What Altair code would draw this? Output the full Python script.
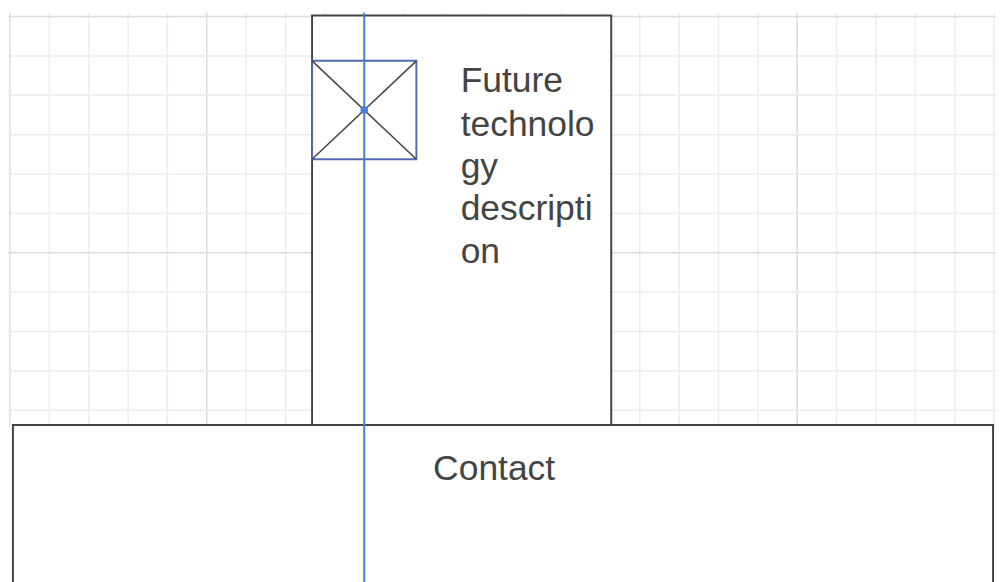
import altair as alt
import pandas as pd

# page coordinates (pixels of the 1004x582 picture)
grid_x = list(range(2, 1004, 40))
grid_y = list(range(4, 420, 40))
major_x = [2, 202, 802]
major_y = [4, 244]

box_names = ["panel", "contact", "image"]
box_x1 = [309, 5, 309]
box_x2 = [613, 1001, 415]
box_y1 = [3, 419, 49]
box_y2 = [419, 580, 149]
box_stroke = ["#444444", "#444444", "#4d6bb3"]

desc_lines = ["Future", "technolo", "gy", "descripti", "on"]
desc_y = [70, 114, 157, 200, 243]

X = alt.Scale(domain=[0, 1004])
Yr = alt.Scale(domain=[582, 0])

def xs(f): return alt.X(f, scale=X, axis=None)
def ys(f): return alt.Y(f, scale=Yr, axis=None)

gx = pd.DataFrame({"x": grid_x, "major": [v in major_x for v in grid_x]})
gy = pd.DataFrame({"y": grid_y, "major": [v in major_y for v in grid_y]})
col = alt.Color("major:N", scale=alt.Scale(domain=[False, True], range=["#ececec", "#dcdcdc"]), legend=None)

vgrid = alt.Chart(gx).mark_rule(strokeWidth=1.5).encode(
    x=xs("x:Q"), y=alt.value(0), y2=alt.value(420), color=col)
hgrid = alt.Chart(gy).mark_rule(strokeWidth=1.5).encode(
    y=ys("y:Q"), x=alt.value(0), x2=alt.value(1004), color=col)

boxes = pd.DataFrame({"name": box_names, "x1": box_x1, "x2": box_x2,
                      "y1": box_y1, "y2": box_y2, "stroke": box_stroke})
rects = alt.Chart(boxes).mark_rect(fill="white", strokeWidth=2).encode(
    x=xs("x1:Q"), x2="x2:Q", y=ys("y1:Q"), y2="y2:Q",
    stroke=alt.Stroke("stroke:N", scale=None))

diag = pd.DataFrame({"x": [309, 415, 309, 415], "y": [49, 149, 149, 49], "g": [0, 0, 1, 1]})
cross = alt.Chart(diag).mark_line(color="#444444", strokeWidth=1.5).encode(
    x=xs("x:Q"), y=ys("y:Q"), detail="g:N")

vline = alt.Chart(pd.DataFrame({"x": [362]})).mark_rule(color="#4a7bd4", strokeWidth=2).encode(
    x=xs("x:Q"), y=alt.value(0), y2=alt.value(582))
dot = alt.Chart(pd.DataFrame({"x": [362], "y": [99]})).mark_circle(color="#4a7bd4", size=60, opacity=1).encode(
    x=xs("x:Q"), y=ys("y:Q"))

desc = alt.Chart(pd.DataFrame({"t": desc_lines, "y": desc_y, "x": [460] * 5})).mark_text(
    align="left", baseline="middle", fontSize=36, font="Liberation Sans", color="#444444").encode(
    x=xs("x:Q"), y=ys("y:Q"), text="t:N")
contact = alt.Chart(pd.DataFrame({"t": ["Contact"], "x": [432], "y": [464]})).mark_text(
    align="left", baseline="middle", fontSize=36, font="Liberation Sans", color="#444444").encode(
    x=xs("x:Q"), y=ys("y:Q"), text="t:N")

chart = alt.layer(vgrid, hgrid, rects, cross, vline, dot, desc, contact).properties(
    width=1004, height=582, padding=0, autosize=alt.AutoSizeParams(type="none")
).configure_view(stroke=None)

chart.save("out.html", embed_options={"renderer": "svg", "actions": False})
